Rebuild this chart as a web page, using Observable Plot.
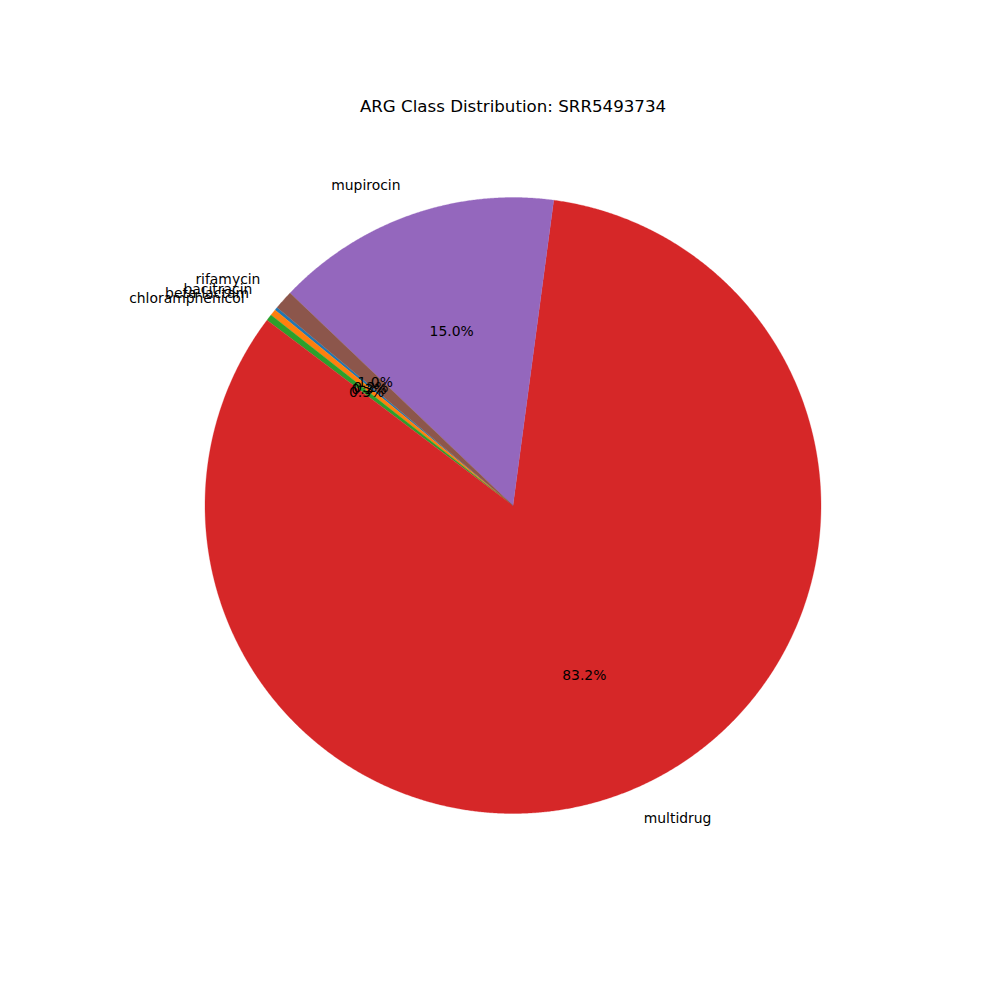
<!DOCTYPE html>
<html><head><meta charset="utf-8">
<script src="https://cdn.jsdelivr.net/npm/d3@7"></script>
<script src="https://cdn.jsdelivr.net/npm/@observablehq/plot@0.6"></script>
<style>html,body{margin:0;padding:0;background:#fff} svg{display:block}</style>
</head><body><div id="chart"></div>
<script>
const title = "ARG Class Distribution: SRR5493734";
const categories = ["bacitracin", "beta-lactam", "chloramphenicol", "multidrug", "mupirocin", "rifamycin"];
const counts = [1, 2, 2, 499, 90, 6];
const colors = ["#1f77b4", "#ff7f0e", "#2ca02c", "#d62728", "#9467bd", "#8c564b"];
const startAngle = 140;

const total = d3.sum(counts);
const rad = d => d * Math.PI / 180;
let acc = 0;
const slices = categories.map((c, i) => {
  const a0 = startAngle + acc / total * 360;
  acc += counts[i];
  const a1 = startAngle + acc / total * 360;
  return {category: c, value: counts[i], a0, a1, mid: (a0 + a1) / 2, pct: counts[i] / total * 100};
});
const poly = slices.flatMap(s => {
  const n = Math.max(2, Math.ceil((s.a1 - s.a0) / 0.25));
  const pts = [{category: s.category, x: 0, y: 0}];
  for (let k = 0; k <= n; k++) {
    const a = rad(s.a0 + (s.a1 - s.a0) * k / n);
    pts.push({category: s.category, x: Math.cos(a), y: Math.sin(a)});
  }
  pts.push({category: s.category, x: 0, y: 0});
  return pts;
});
const lx = d => 1.1 * Math.cos(rad(d.mid));
const ly = d => 1.1 * Math.sin(rad(d.mid));
const px = d => 0.6 * Math.cos(rad(d.mid));
const py = d => 0.6 * Math.sin(rad(d.mid));
const fs = 13.9;

const chart = Plot.plot({
  width: 1000, height: 1000,
  marginLeft: 127.5, marginRight: 102.5, marginTop: 120, marginBottom: 110,
  x: {domain: [-1.25, 1.25], axis: null},
  y: {domain: [-1.25, 1.25], axis: null},
  color: {domain: categories, range: colors},
  style: {fontFamily: "DejaVu Sans", color: "black", background: "white"},
  marks: [
    Plot.line(poly, {x: "x", y: "y", z: "category", fill: "category", stroke: "category", strokeWidth: 0.3, curve: "linear"}),
    Plot.text(slices.filter(d => lx(d) >= 0), {x: lx, y: ly, text: "category", textAnchor: "start", lineAnchor: "middle", fontSize: fs, fill: "black"}),
    Plot.text(slices.filter(d => lx(d) < 0), {x: lx, y: ly, text: "category", textAnchor: "end", lineAnchor: "middle", fontSize: fs, fill: "black"}),
    Plot.text(slices, {x: px, y: py, text: d => d.pct.toFixed(1) + "%", textAnchor: "middle", lineAnchor: "middle", fontSize: fs, fill: "black"}),
    Plot.text([title], {frameAnchor: "top", dy: -14, text: d => d, lineAnchor: "middle", fontSize: 16.67, fill: "black"})
  ]
});
document.getElementById("chart").appendChild(chart);
</script>
</body></html>
